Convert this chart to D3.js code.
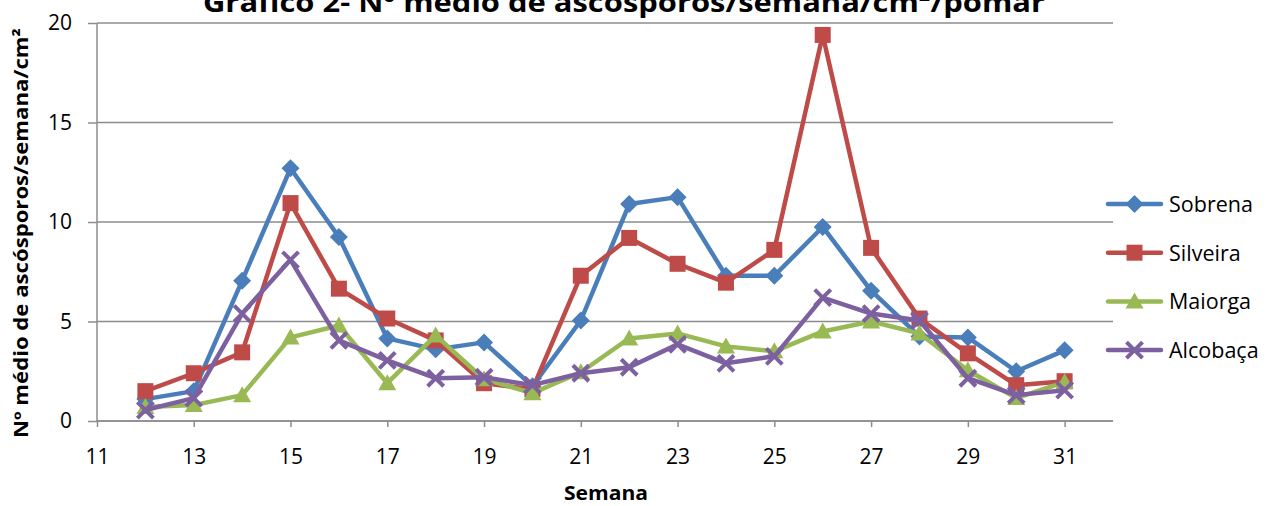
<!DOCTYPE html>
<html>
<head>
<meta charset="utf-8">
<script src="https://cdn.jsdelivr.net/npm/d3@7"></script>
<style>
  body { margin: 0; background: #fff; }
  svg { font-family: "Open Sans", "Liberation Sans", sans-serif; }
</style>
</head>
<body>
<svg id="chart" width="1277" height="506"></svg>
<script>
// weeks and values per orchard
var semanas = [12,13,14,15,16,17,18,19,20,21,22,23,24,25,26,27,28,29,30,31];
var sobrena  = [1.1,1.5,7.05,12.7,9.25,4.15,3.6,3.95,1.75,5.05,10.9,11.25,7.3,7.3,9.75,6.55,4.25,4.2,2.5,3.55];
var silveira = [1.5,2.4,3.45,10.95,6.65,5.15,4.05,1.9,1.6,7.3,9.2,7.9,6.95,8.6,19.4,8.7,5.15,3.4,1.8,2.0];
var maiorga  = [0.7,0.8,1.3,4.2,4.8,1.9,4.3,2.1,1.4,2.45,4.15,4.4,3.75,3.5,4.5,5.0,4.4,2.55,1.15,1.95];
var alcobaca = [0.55,1.15,5.4,8.1,4.05,3.05,2.15,2.2,1.8,2.4,2.7,3.85,2.9,3.25,6.2,5.4,5.05,2.15,1.3,1.55];
var xTicks = [11,13,15,17,19,21,23,25,27,29,31];
var yTicks = [0,5,10,15,20];

var series = [
  {name: "Sobrena",  values: sobrena,  color: "#4a7ebb", marker: "diamond"},
  {name: "Silveira", values: silveira, color: "#be4b48", marker: "square"},
  {name: "Maiorga",  values: maiorga,  color: "#98b954", marker: "triangle"},
  {name: "Alcobaça", values: alcobaca, color: "#7d60a0", marker: "cross"}
];

var margin = {left: 97, top: 23, right: 164, bottom: 85};
var width = 1277 - margin.left - margin.right;
var height = 506 - margin.top - margin.bottom;

var svg = d3.select("#chart");

var x = d3.scaleLinear().domain([11, 32]).range([0, width]);
var y = d3.scaleLinear().domain([0, 20]).range([height, 0]);

var g = svg.append("g")
    .attr("transform", "translate(" + margin.left + "," + margin.top + ")");

// gridlines
g.append("g")
    .selectAll("line")
    .data(yTicks)
    .enter().append("line")
    .attr("x1", 0).attr("x2", width)
    .attr("y1", function(d) { return y(d); })
    .attr("y2", function(d) { return y(d); })
    .attr("stroke", "#8c8c8c")
    .attr("stroke-width", 1.5);

// axes
var yAxis = d3.axisLeft(y).tickValues(yTicks).tickSize(9).tickPadding(16);
var xAxis = d3.axisBottom(x).tickValues(xTicks).tickSize(6).tickPadding(22);

var gy = g.append("g").call(yAxis);
var gx = g.append("g").attr("transform", "translate(0," + height + ")").call(xAxis);

[gy, gx].forEach(function(a) {
  a.select(".domain").attr("stroke", "#8c8c8c").attr("stroke-width", 1.5);
  a.selectAll(".tick line").attr("stroke", "#8c8c8c").attr("stroke-width", 1.5);
  a.selectAll(".tick text")
    .attr("fill", "#000")
    .style("font-size", "21px")
    .style("font-family", "'Open Sans', sans-serif");
});
gx.select(".domain").attr("d", "M0,0H" + width);
gy.select(".domain").attr("d", "M0,0V" + height);

// lines
var line = d3.line()
    .x(function(d) { return x(d.x); })
    .y(function(d) { return y(d.y); });

function markerPath(type) {
  if (type === "diamond") return "M0,-9L9,0L0,9L-9,0Z";
  if (type === "square") return "M-8,-8H8V8H-8Z";
  if (type === "triangle") return "M0,-9L9,7H-9Z";
  return "M-8,-8L8,8M8,-8L-8,8";
}

function drawMarker(sel, s) {
  var p = sel.append("path").attr("d", markerPath(s.marker));
  if (s.marker === "cross") {
    p.attr("fill", "none").attr("stroke", s.color).attr("stroke-width", 4);
  } else {
    p.attr("fill", s.color);
  }
}

series.forEach(function(s) {
  var pts = semanas.map(function(w, i) { return {x: w, y: s.values[i]}; });
  var sg = g.append("g");
  sg.append("path")
    .datum(pts)
    .attr("d", line)
    .attr("fill", "none")
    .attr("stroke", s.color)
    .attr("stroke-width", 4.5)
    .attr("stroke-linejoin", "round");
  sg.selectAll("g.pt")
    .data(pts)
    .enter().append("g")
    .attr("class", "pt")
    .attr("transform", function(d) { return "translate(" + x(d.x) + "," + y(d.y) + ")"; })
    .each(function() { drawMarker(d3.select(this), s); });
});

// legend
var legend = svg.append("g").attr("transform", "translate(1108,204)");
series.forEach(function(s, i) {
  var lg = legend.append("g").attr("transform", "translate(0," + (i * 48.7) + ")");
  lg.append("line")
    .attr("x1", 0).attr("x2", 53)
    .attr("stroke", s.color).attr("stroke-width", 4.5).attr("stroke-linecap", "round");
  drawMarker(lg.append("g").attr("transform", "translate(26.5,0)"), s);
  lg.append("text")
    .attr("x", 61).attr("y", 8)
    .style("font-size", "21.5px")
    .text(s.name);
});

// titles
svg.append("text")
    .attr("x", 624).attr("y", 12)
    .attr("text-anchor", "middle")
    .attr("textLength", 842)
    .attr("lengthAdjust", "spacingAndGlyphs")
    .style("font-size", "27px")
    .style("font-weight", "bold")
    .text("Gráfico 2- Nº médio de ascósporos/semana/cm²/pomar");

svg.append("text")
    .attr("x", 606).attr("y", 500)
    .attr("text-anchor", "middle")
    .attr("textLength", 84)
    .attr("lengthAdjust", "spacingAndGlyphs")
    .style("font-size", "19px")
    .style("font-weight", "bold")
    .text("Semana");

svg.append("text")
    .attr("transform", "translate(28,233) rotate(-90)")
    .attr("text-anchor", "middle")
    .attr("textLength", 410)
    .attr("lengthAdjust", "spacingAndGlyphs")
    .style("font-size", "19px")
    .style("font-weight", "bold")
    .text("Nº médio de ascósporos/semana/cm²");
</script>
</body>
</html>
